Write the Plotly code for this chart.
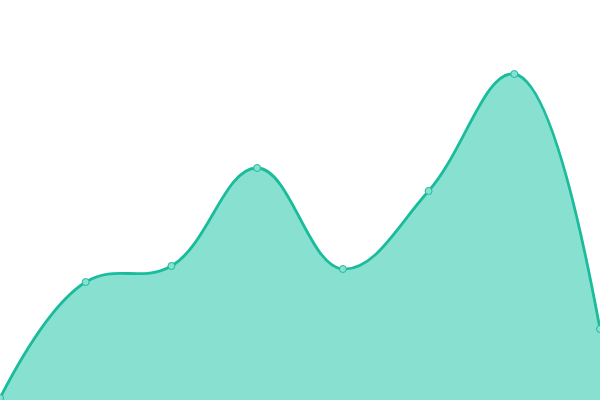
import plotly.graph_objects as go

# data
x_vals = [0, 1, 2, 3, 4, 5, 6, 7]
y_vals = [2, 118, 134, 232, 131, 209, 326, 71]

line_col = "#1abc9c"
fill_col = "#88e0d0"

fig = go.Figure()
fig.add_trace(go.Scatter(
    x=x_vals, y=y_vals,
    mode="lines+markers",
    line=dict(color=line_col, width=2.8, shape="spline", smoothing=1.15),
    fill="tozeroy", fillcolor=fill_col,
    marker=dict(size=7, color=fill_col, line=dict(color=line_col, width=1)),
    hoverinfo="skip",
))

fig.update_layout(
    width=600, height=400,
    margin=dict(l=0, r=0, t=0, b=0),
    paper_bgcolor="white", plot_bgcolor="white",
    showlegend=False,
    xaxis=dict(range=[0, 7], visible=False, fixedrange=True),
    yaxis=dict(range=[0, 400], visible=False, fixedrange=True),
)

# page has a default body margin, drop it so the chart sits at 0,0
fig.write_html("out.html", config={"displayModeBar": False},
               post_script="document.body.style.margin='0';")
